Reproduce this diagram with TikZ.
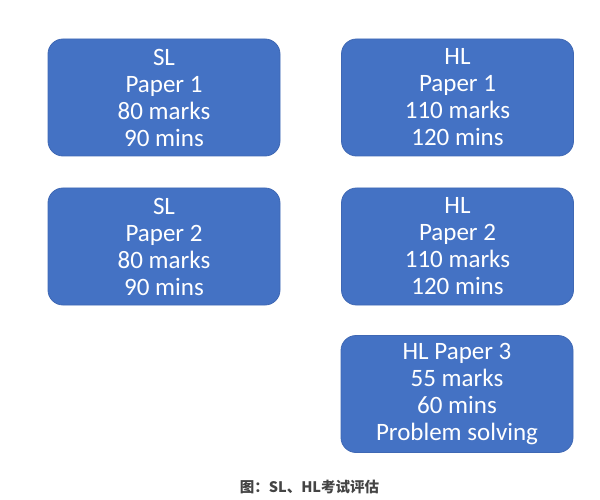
\documentclass[tikz,border=0pt]{standalone}
\usepackage{fontspec}
\setmainfont{Carlito}
\newfontfamily\cjk{Noto Sans CJK SC}
\definecolor{paperblue}{HTML}{4472C4}
\definecolor{paperedge}{HTML}{3F68B4}
\definecolor{capgray}{HTML}{444444}

\begin{document}
\begin{tikzpicture}[x=1pt,y=-1pt,
  paper/.style={draw=paperedge, line width=0.8pt, fill=paperblue, rounded corners=15pt, minimum width=232pt, minimum height=117pt, inner sep=0pt, text=white, align=center, font=\fontsize{25}{27}\selectfont}]
\useasboundingbox (0,0) rectangle (600,500);
\node[paper] (slone) at (164,97.5) {SL\\Paper 1\\80 marks\\90 mins};
\node[paper] (hlone) at (457.5,97.5) {HL\\Paper 1\\110 marks\\120 mins};
\node[paper] (sltwo) at (164,246.5) {SL\\Paper 2\\80 marks\\90 mins};
\node[paper] (hltwo) at (457.5,246.5) {HL\\Paper 2\\110 marks\\120 mins};
\node[paper] (hlthree) at (457,394) {HL Paper 3\\55 marks\\60 mins\\Problem solving};
\node[text=capgray, font=\cjk\bfseries\fontsize{14.5}{16}\selectfont] (caption) at (309.5,486.5) {图：SL、HL考试评估};
\end{tikzpicture}
\end{document}
